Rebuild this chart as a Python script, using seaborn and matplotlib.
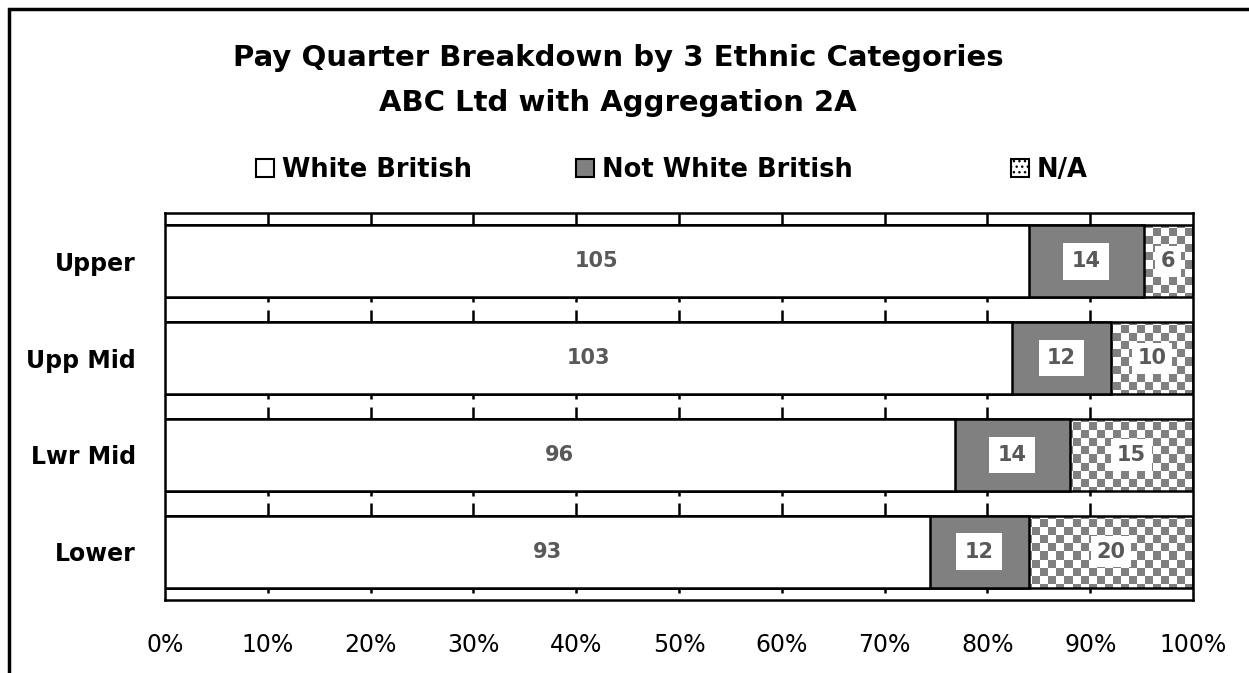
import numpy as np
import pandas as pd
import matplotlib
matplotlib.use('Agg')
import matplotlib.pyplot as plt
import seaborn as sns
from matplotlib.patches import Patch, Rectangle
from matplotlib.colors import ListedColormap

categories = ['Upper', 'Upp Mid', 'Lwr Mid', 'Lower']
white_british = [105, 103, 96, 93]
not_white_british = [14, 12, 14, 12]
not_available = [6, 10, 15, 20]
x_ticks = [0, 0.1, 0.2, 0.3, 0.4, 0.5, 0.6, 0.7, 0.8, 0.9, 1.0]

sns.set_style('white')
plt.rcParams['font.family'] = ['DejaVu Sans']
plt.rcParams['text.color'] = 'black'
plt.rcParams['xtick.color'] = 'black'
plt.rcParams['ytick.color'] = 'black'

df = pd.DataFrame({
    'category': categories,
    'wb': white_british,
    'nwb': not_white_british,
    'na': not_available,
})
df['total'] = df['wb'] + df['nwb'] + df['na']
df['wb_end'] = df['wb'] / df['total']
df['nwb_end'] = (df['wb'] + df['nwb']) / df['total']
df['na_end'] = (df['wb'] + df['nwb'] + df['na']) / df['total']

GRAY = '#808080'
BAR_W = 0.745
LW = 1.8

fig = plt.figure(figsize=(12.49, 6.73), dpi=100)
ax = fig.add_axes([165 / 1249, 1 - 600 / 673, 1028 / 1249, 387 / 673])

# stacked bars: draw cumulative totals back to front
sns.barplot(data=df, x='na_end', y='category', orient='h', width=BAR_W,
            fill=False, color='black', linewidth=LW, errorbar=None,
            saturation=1, ax=ax, zorder=3)
na_patches = list(ax.patches)
sns.barplot(data=df, x='nwb_end', y='category', orient='h', width=BAR_W,
            color=GRAY, edgecolor='black', linewidth=LW, errorbar=None,
            saturation=1, ax=ax, zorder=4)
sns.barplot(data=df, x='wb_end', y='category', orient='h', width=BAR_W,
            color='white', edgecolor='black', linewidth=LW, errorbar=None,
            saturation=1, ax=ax, zorder=5)

# checker pattern for N/A
checker = np.indices((48, 128)).sum(axis=0) % 2
cmap = ListedColormap(['white', GRAY])
for p in na_patches:
    im = ax.imshow(checker, extent=(0, 1, 3.5, -0.5), aspect='auto',
                   interpolation='nearest', cmap=cmap, zorder=2)
    im.set_clip_path(p)

ax.set_xlim(0, 1)
ax.set_ylim(3.5, -0.5)

# value labels
for i, row in df.iterrows():
    ax.text(row['wb_end'] / 2, i, str(row['wb']), ha='center', va='center',
            color='#595959', fontsize=15, fontweight='bold', zorder=6)
    ax.text((row['wb_end'] + row['nwb_end']) / 2, i, str(row['nwb']),
            ha='center', va='center', color='#595959', fontsize=15,
            fontweight='bold', zorder=6,
            bbox=dict(facecolor='white', edgecolor='none', pad=6))
    ax.text((row['nwb_end'] + row['na_end']) / 2, i, str(row['na']),
            ha='center', va='center', color='#595959', fontsize=15,
            fontweight='bold', zorder=6,
            bbox=dict(facecolor='white', edgecolor='none', pad=4))

# tick marks in the gaps between bars
marks = x_ticks[1:-1]
for i in range(len(categories)):
    top = i - BAR_W / 2
    bottom = i + BAR_W / 2
    ax.vlines(marks, top - 0.125, top, color='black', lw=LW, zorder=1)
    ax.vlines(marks, bottom, bottom + 0.05, color='black', lw=LW, zorder=1)

ax.set_xticks(x_ticks)
ax.set_xticklabels([f'{int(round(v * 100))}%' for v in x_ticks], fontsize=17)
ax.tick_params(axis='x', length=0, pad=24)
ax.tick_params(axis='y', length=0, pad=21)
for lab in ax.get_yticklabels():
    lab.set_fontweight('bold')
    lab.set_fontsize(17)
ax.set_xlabel('')
ax.set_ylabel('')
for s in ax.spines.values():
    s.set_visible(True)
    s.set_color('black')
    s.set_linewidth(LW)

fig.text(0.495, 1 - 58 / 673, 'Pay Quarter Breakdown by 3 Ethnic Categories',
         ha='center', va='center', fontsize=21, fontweight='bold')
fig.text(0.495, 1 - 103 / 673, 'ABC Ltd with Aggregation 2A',
         ha='center', va='center', fontsize=21, fontweight='bold')

# legend entries placed individually
legend_items = [('White British', 'white', 256), ('Not White British', GRAY, 576), ('N/A', None, 1011)]
for label, col, xpx in legend_items:
    if col is None:
        h = Patch(facecolor='white', edgecolor='black', hatch='...', linewidth=1.5)
    else:
        h = Patch(facecolor=col, edgecolor='black', linewidth=1.5)
    fig.legend(handles=[h], labels=[label], loc='center left',
               bbox_to_anchor=(xpx / 1249, 1 - 170 / 673), frameon=False,
               handlelength=0.7, handleheight=0.7, handletextpad=0.3,
               borderpad=0, borderaxespad=0,
               prop={'size': 18.5, 'weight': 'bold'})

fig.patches.append(Rectangle((9 / 1249, -0.5), 3, 1.5 - 9 / 673,
                             transform=fig.transFigure, fill=False,
                             edgecolor='black', linewidth=2.5))

fig.savefig('out.png', dpi=100)
